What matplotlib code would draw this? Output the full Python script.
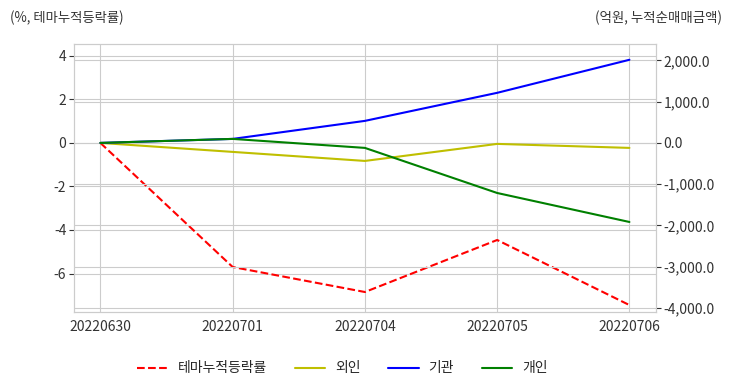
import matplotlib
matplotlib.use('Agg')
import matplotlib.pyplot as plt
import seaborn as sns

sns.set_style('whitegrid')
plt.rcParams['font.family'] = ['Noto Sans CJK KR', 'DejaVu Sans']
plt.rcParams['axes.unicode_minus'] = False

dates = ['20220630', '20220701', '20220704', '20220705', '20220706']
theme_ret = [0.0, -5.70, -6.85, -4.46, -7.45]      # %, left axis
foreign = [0.0, -218, -437, -24, -121]              # 억원, right axis
institution = [0.0, 97, 534, 1214, 2015]
individual = [0.0, 97, -121, -1214, -1917]

fig = plt.figure(figsize=(7.32, 3.92), dpi=100)
ax1 = fig.add_axes([0.101, 0.204, 0.795, 0.684])
ax2 = ax1.twinx()

x = range(len(dates))
l1, = ax1.plot(x, theme_ret, color='r', linestyle='--', linewidth=1.5, label='테마누적등락률')
l2, = ax2.plot(x, foreign, color='y', linewidth=1.5, label='외인')
l3, = ax2.plot(x, institution, color='b', linewidth=1.5, label='기관')
l4, = ax2.plot(x, individual, color='g', linewidth=1.5, label='개인')

ax1.set_xticks(list(x))
ax1.set_xticklabels(dates)
ax1.set_xlim(-0.2, 4.2)
ax1.set_ylim(-7.77, 4.55)
ax2.set_ylim(-4100, 2400)
ax2.yaxis.set_major_formatter(matplotlib.ticker.FuncFormatter(lambda v, p: f'{v:,.1f}'))

for ax in (ax1, ax2):
    ax.tick_params(labelsize=10, colors='#333333', pad=2)
    for s in ax.spines.values():
        s.set_color('#cccccc')
ax2.grid(True, color='#cccccc')

fig.text(0.014, 0.955, '(%, 테마누적등락률)', fontsize=9.6, color='#333333', va='center')
fig.text(0.986, 0.955, '(억원, 누적순매매금액)', fontsize=9.7, color='#333333', va='center', ha='right')

fig.legend(handles=[l1, l2, l3, l4], loc='center', bbox_to_anchor=(0.468, 0.06),
           ncol=4, frameon=False, fontsize=10, handlelength=2.2,
           handletextpad=0.7, columnspacing=2.0)

fig.savefig('out.png', dpi=100)
